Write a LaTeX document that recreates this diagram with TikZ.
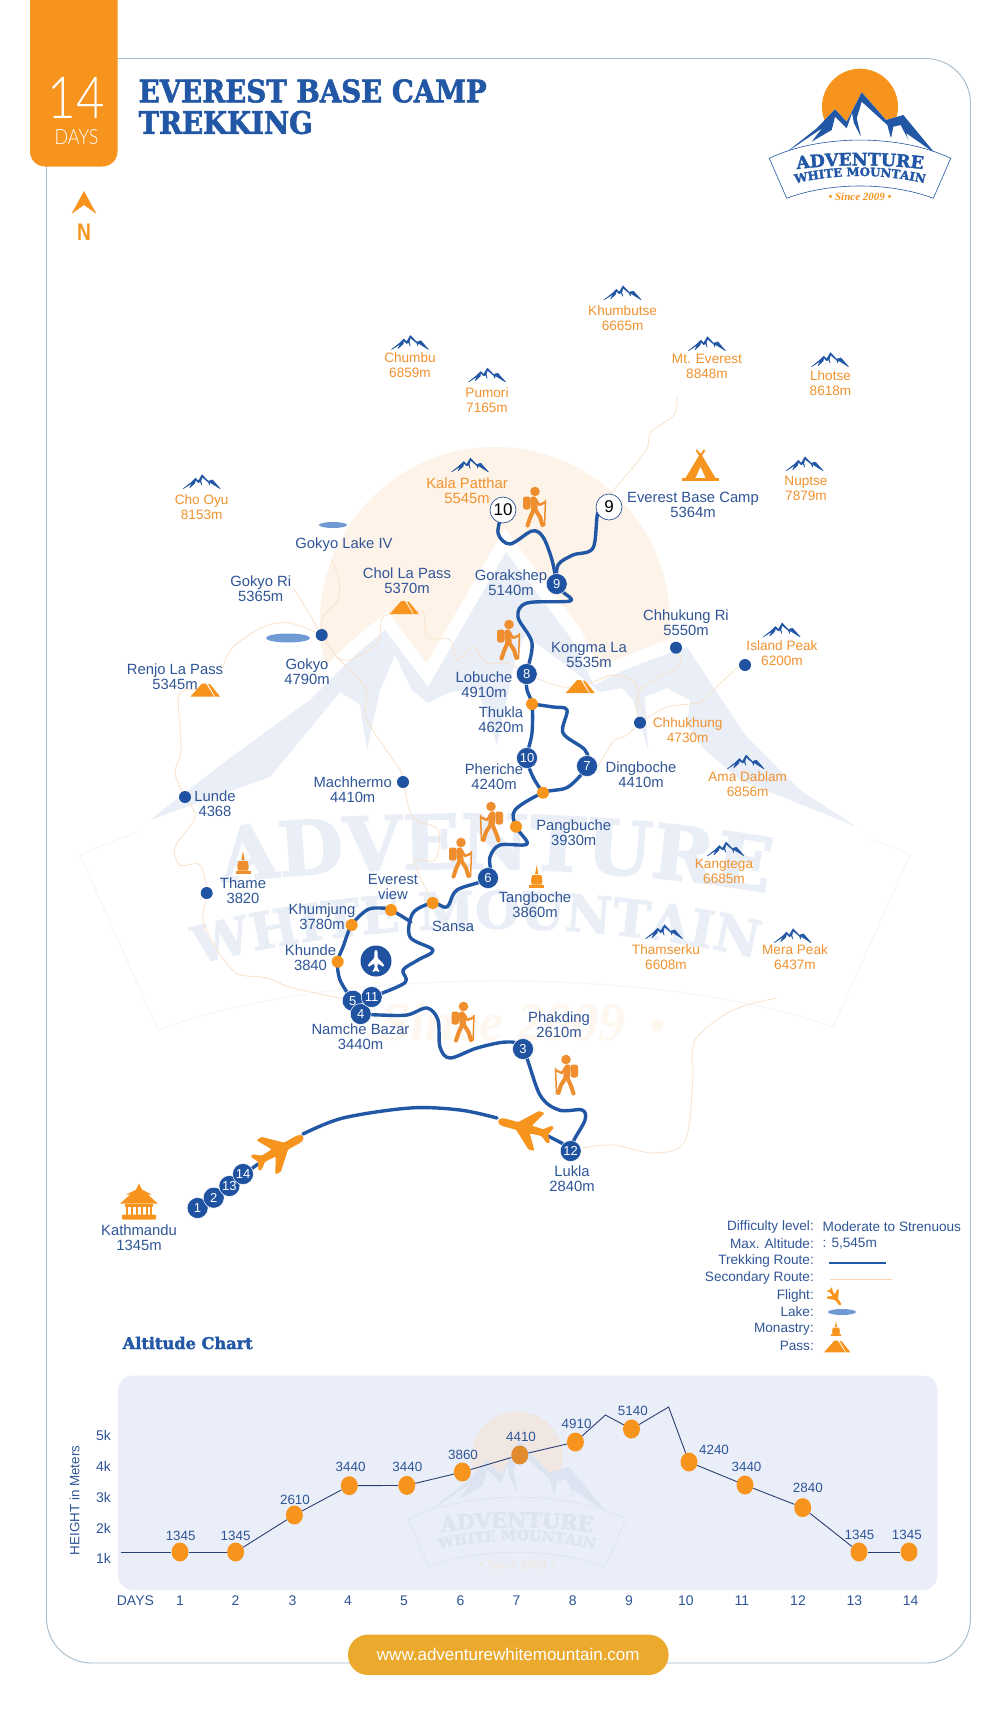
\documentclass[tikz,border=0pt]{standalone}
\usepackage{fontspec}
\usetikzlibrary{decorations.text,shapes.geometric}
\setmainfont{Liberation Sans}
\newfontfamily\slabf{DejaVu Serif}[BoldFont=* Bold,BoldFeatures={FakeBold=2}]
\newfontfamily\thinf{Lato}[UprightFont=* Light]
\newfontfamily\sincef{Liberation Serif}
\definecolor{navy}{HTML}{2F5597}
\definecolor{routec}{HTML}{2257A5}
\definecolor{stopc}{HTML}{1F52A0}
\definecolor{orng}{HTML}{F7941E}
\definecolor{orngt}{HTML}{F0922F}
\definecolor{orngd}{HTML}{E18B2E}
\definecolor{hikerc}{HTML}{EE8E2E}
\definecolor{sec}{HTML}{F9E2CB}
\definecolor{wmb}{HTML}{E9EEF7}
\definecolor{wms}{HTML}{FEF3E8}
\definecolor{wmt}{HTML}{FEF7F0}
\definecolor{wml}{HTML}{F5F7FB}
\definecolor{panel}{HTML}{E9EEF8}
\definecolor{lakec}{HTML}{6F9AD3}
\definecolor{btn}{HTML}{EBA92E}
\definecolor{borderc}{HTML}{A5BBCB}
\definecolor{chartl}{HTML}{2B3F73}
\definecolor{csun}{HTML}{F0E7E2}
\definecolor{cblue}{HTML}{DCE3F1}
\pgfdeclarelayer{wm}\pgfdeclarelayer{rt}\pgfsetlayers{wm,rt,main}
\tikzset{
 x=1pt,y=-1pt,
 lblue/.style={align=center,inner sep=0pt,text=navy,font=\fontsize{14.8}{15}\selectfont},
 lorng/.style={align=center,inner sep=0pt,text=orngt,font=\fontsize{13.6}{15}\selectfont},
 stopn/.style={circle,fill=stopc,draw=white,line width=.5pt,text=white,minimum size=21pt,inner sep=0pt,font=\fontsize{13}{13}\selectfont},
 whiten/.style={circle,fill=white,draw=navy,line width=.7pt,text=black,minimum size=26pt,inner sep=0pt,font=\fontsize{17}{17}\selectfont},
 odot/.style={circle,fill=orng,minimum size=12pt,inner sep=0pt},
 bdot/.style={circle,fill=stopc,minimum size=12pt,inner sep=0pt},
 cdot/.style={ellipse,fill=orng,minimum width=17pt,minimum height=19pt,inner sep=0pt},
 route/.style={draw=routec,line width=3.4pt,line cap=round,line join=round},
 secr/.style={draw=sec,line width=.8pt,line cap=round,line join=round},
 smth/.style={smooth,tension=.55},
 clab/.style={inner sep=0pt,text=navy,font=\fontsize{13.4}{14}\selectfont},
 axl/.style={inner sep=0pt,text=navy,font=\fontsize{14}{14}\selectfont},
 legk/.style={anchor=east,inner sep=0pt,text=navy,font=\fontsize{13.6}{14}\selectfont},
 legv/.style={anchor=west,inner sep=0pt,text=navy,font=\fontsize{13.6}{14}\selectfont},
}
\newcommand\peakshape{(-18.5,7) -- (-10.8,1) -- (-6.2,-3.5) -- (-3.3,-.6) -- (.4,-7) -- (6.5,-.5) -- (10.8,-1.8) -- (18.5,7) -- (10,1.7) -- (8.3,.5) -- (7.8,3.3) -- (6.8,.5) -- (.4,-4.8) -- (-.8,-.5) -- (.2,3.5) -- (-1.5,-.2) -- (-3.3,1) -- (-6.2,-1.8) -- (-7,1.5) -- (-12,6)-- (-9.5,1.2) -- cycle}
\newcommand\peak[3]{\begin{scope}[shift={(#2,#3)}]\filldraw[routec,line width=.5pt,line join=round] \peakshape;\end{scope}}
\newcommand\passicon[3]{\begin{scope}[shift={(#1,#2)},scale=#3]
 \fill[orng] (-14.5,6.5) -- (-3,-6.5) -- (1,-6.5) -- (9,6.5) -- cycle;
 \fill[orng] (3,-6) -- (5,-6) -- (15,6.5) -- (10,6.5) -- cycle;\end{scope}}
\newcommand\stupa[4]{\begin{scope}[shift={(#1,#2)},scale=#3]
 \fill[#4] (0,-12) -- (-1.6,-3) -- (1.6,-3) -- cycle;
 \fill[#4] (-4.6,-2) .. controls (-6,3) and (-6,6) .. (-5,7.5) -- (5,7.5) .. controls (6,6) and (6,3) .. (4.6,-2) -- cycle;
 \fill[#4] (-7.5,7.5) rectangle (7.5,11);\end{scope}}
\newcommand\hiker[4]{\begin{scope}[shift={(#1,#2)},xscale=#3]
 \fill[hikerc] (2,-15.5) circle (4.8);
 \fill[hikerc,rounded corners=2.5pt] (-10,-10.5) rectangle (-2.5,2.5);
 \draw[hikerc,line width=6.5pt,line cap=round] (.5,-7.5) -- (1.5,2);
 \draw[hikerc,line width=4pt,line cap=round,line join=round] (.5,3) -- (-3,11) -- (-5.5,18.5);
 \draw[hikerc,line width=4pt,line cap=round,line join=round] (2.5,3) -- (7,10) -- (9.5,18);
 \draw[hikerc,line width=2.4pt,line cap=round,line join=round] (2.5,-8) -- (6,-2) -- (12,-4.5);
 \draw[hikerc,line width=1.5pt] (12.5,-7) -- (11.5,19);
 \end{scope}}
\newcommand\plane[5]{\begin{scope}[shift={(#1,#2)},rotate=#3,scale=#4]
 \fill[#5,rounded corners=1pt] (28,0) -- (26,-3) -- (22,-4) -- (8,-4) -- (-9,-20) -- (-15,-19.5) -- (-6,-4) -- (-18,-3.5) -- (-25,-9) -- (-28,-8) -- (-24,0) -- (-28,8) -- (-25,9) -- (-18,3.5) -- (-6,4) -- (-15,19.5) -- (-9,20) -- (8,4) -- (22,4) -- (26,3) -- cycle;
 \end{scope}}
% x y scale sun blue fill orange
\newcommand\advlogo[7]{\begin{scope}[shift={(#1,#2)},scale=#3]
 \fill[#4] (0,-38.3) circle (38);
 \fill[#6] (-75,8.3) -- (-43.3,-16.7) -- (-25,-35.7) -- (-13.3,-23.3) -- (1.7,-52.7) -- (26,-25) -- (43.3,-30) -- (75,8.3) -- cycle;
 \fill[#5,line join=round] (-75,8.3) -- (-43.3,-16.7) -- (-25,-35.7) -- (-13.3,-23.3) -- (1.7,-52.7) -- (26,-25) -- (43.3,-30) -- (75,8.3) -- (46,-12) -- (48.3,-5) -- (40.7,-20) -- (33.3,-18.3) -- (31,-6.7) -- (27.3,-20) -- (1.7,-43.3) -- (-3.3,-26.7) -- (1,-8.3) -- (-6,-21.7) -- (-8,-32) -- (-13.3,-16.7) -- (-25,-28.3) -- (-28.3,-15) -- (-48.3,-3.3) -- (-38,-16.7) -- cycle;
 \filldraw[fill=#6,draw=#5,line width=.6pt] (-90.7,13.3) .. controls (-40,-11) and (40,-11) .. (90.7,13.3) -- (73.3,53.3) .. controls (30,36.9) and (-30,36.9) .. (-73.3,53.3) -- cycle;
 \pgfmathsetmacro\fa{17.3*#3}\pgfmathsetmacro\fb{11.8*#3}\pgfmathsetmacro\fc{11*#3}
 \path[decorate,decoration={text along path,text align=center,text={|\slabf\bfseries\fontsize{\fa}{\fa}\selectfont\color{#5}|ADVENTURE}}] (-66,24.5) .. controls (-25,19) and (25,19) .. (66,24.5);
 \path[decorate,decoration={text along path,text align=center,text={|\slabf\bfseries\fontsize{\fb}{\fb}\selectfont\color{#5}|WHITE MOUNTAIN}}] (-72,40) .. controls (-25,28) and (25,28) .. (72,40);
 \node[inner sep=0pt,text=#7,font=\sincef\bfseries\itshape\fontsize{\fc}{\fc}\selectfont] at (0,52) {• Since 2009 •};
 \end{scope}}
\begin{document}
\begin{tikzpicture}
\useasboundingbox (0,0) rectangle (1001,1727);

% ---------- watermark
\begin{pgfonlayer}{wm}
\fill[white] (0,0) rectangle (1001,1727);
\draw[wml,line width=1.2pt,line join=round] (80,855) .. controls (330,745) and (660,745) .. (910,855) -- (833,1027) .. controls (660,965) and (330,965) .. (158,1030) -- cycle;
\fill[wms] (495,622) circle (175);
\def\wmout{(150,820) -- (227,760) -- (310,700) -- (353,657) -- (385,630) -- (428,687) -- (506,552) -- (570,637) -- (594,685) -- (620,672) -- (650,660) -- (687,647) -- (745,735) -- (800,790) -- (857,827)}
\fill[white,draw=white,line width=26pt,line join=miter] \wmout -- (857,860) -- (150,860) -- cycle;
\fill[wmb] \wmout -- (790,800) -- (740,780) -- (705,750) -- (687,725) -- (690,700) -- (667,688) -- (645,697) -- (648,750) -- (633,700) -- (622,688) -- (600,692) -- (570,668) -- (525,635) -- (515,660) -- (497,745) -- (478,690) -- (450,692) -- (428,703) -- (412,690) -- (395,655) -- (380,690) -- (367,750) -- (360,705) -- (340,692) -- (270,777) -- cycle;
\path[decorate,decoration={text along path,text align=center,text={|\slabf\bfseries\fontsize{75}{75}\selectfont\color{wmb}|ADVENTURE}}] (210,884) .. controls (395,862) and (595,862) .. (780,895);
\path[decorate,decoration={text along path,text align=center,text={|\slabf\bfseries\fontsize{51}{51}\selectfont\color{wmb}|WHITE MOUNTAIN}}] (172,972) .. controls (357,915) and (597,915) .. (782,965);
\node[inner sep=0pt,text=wmt,font=\sincef\bfseries\itshape\fontsize{54}{54}\selectfont] (wmsince) at (503,1022) {Since 2009};
\fill[wmt] (657,1025) circle (6);
\end{pgfonlayer}

% ---------- frame
\draw[borderc,line width=.9pt,rounded corners=45pt] (100,58.5) -- (970.5,58.5) -- (970.5,1663) -- (46.5,1663) -- (46.5,130);
\fill[orng,rounded corners=15pt] (30,-40) rectangle (117.5,166.5);
\node[inner sep=0pt,text=white,font=\thinf\fontsize{58}{58}\selectfont] (tabn) at (76.5,97.5) {\scalebox{.85}[1]{14}};
\node[inner sep=0pt,text=white,font=\thinf\fontsize{21}{21}\selectfont] (tabd) at (76.5,137) {\scalebox{.85}[1]{DAYS}};
\node[anchor=west,inner sep=0pt] (t1) at (138.5,91) {\resizebox{348pt}{23pt}{\color{routec}\slabf\bfseries EVEREST BASE CAMP}};
\node[anchor=west,inner sep=0pt] (t2) at (138.5,122.5) {\resizebox{174pt}{23pt}{\color{routec}\slabf\bfseries TREKKING}};
\fill[orng] (84,191) -- (96.5,214) -- (84,205) -- (71.5,214) -- cycle;
\node[inner sep=0pt,text=orng,font=\bfseries\fontsize{24}{24}\selectfont] (north) at (84,232) {\scalebox{.8}[1]{N}};
\advlogo{860}{145}{1}{orng}{routec}{white}{orng}

% ---------- peaks
\peak{cho}{201.7}{481.7}
\peak{khu}{622.6}{292.8}
\peak{chu}{410}{342.5}
\peak{eve}{707}{343.7}
\peak{lho}{830}{359.7}
\peak{pum}{487}{375}
\peak{kal}{470}{465}
\peak{nup}{804.6}{463.8}
\peak{isl}{781.7}{630}
\peak{ama}{745.7}{762}
\peak{kan}{725.7}{849}
\peak{tha}{664}{931.7}
\peak{mer}{792.7}{935.7}

% ---------- labels
\node[lorng] (lcho) at (201.7,507.5) {Cho Oyu\\8153m};
\node[lorng] (lkhu) at (622.6,318.4) {Khumbutse\\6665m};
\node[lorng] (lchu) at (410,365.5) {Chumbu\\6859m};
\node[lorng] (leve) at (707,366.6) {Mt. Everest\\8848m};
\node[lorng] (llho) at (830.5,382.7) {Lhotse\\8618m};
\node[lorng] (lpum) at (487,400) {Pumori\\7165m};
\node[lorng,font=\fontsize{14.8}{15}\selectfont] (lkal) at (467,490.7) {Kala Patthar\\5545m};
\node[lorng] (lnup) at (806,488) {Nuptse\\7879m};
\node[lorng] (lisl) at (782,652.7) {Island Peak\\6200m};
\node[lorng] (lchk) at (687.7,730) {Chhukhung\\4730m};
\node[lorng] (lama) at (747.7,783.7) {Ama Dablam\\6856m};
\node[lorng] (lkan) at (724,871.7) {Kangtega\\6685m};
\node[lorng] (ltha) at (666,956.7) {Thamserku\\6608m};
\node[lorng] (lmer) at (795,957) {Mera Peak\\6437m};
\node[lblue] (lebc) at (693,504.4) {Everest Base Camp\\5364m};
\node[lblue] (lglk) at (344,544.7) {Gokyo Lake IV};
\node[lblue] (lgri) at (260.7,589) {Gokyo Ri\\5365m};
\node[lblue] (lcol) at (407,581) {Chol La Pass\\5370m};
\node[lblue] (lgor) at (511,583) {Gorakshep\\5140m};
\node[lblue] (lren) at (175,677) {Renjo La Pass\\5345m};
\node[lblue] (lgok) at (307,672) {Gokyo\\4790m};
\node[lblue] (llob) at (484,685) {Lobuche\\4910m};
\node[lblue] (lthu) at (501,720) {Thukla\\4620m};
\node[lblue] (lphe) at (494,777) {Pheriche\\4240m};
\node[lblue] (lmac) at (352.7,790) {Machhermo\\4410m};
\node[lblue] (llun) at (215,804) {Lunde\\4368};
\node[lblue] (ltme) at (243,891) {Thame\\3820};
\node[lblue] (levw) at (393,887) {Everest\\view};
\node[lblue] (lkhj) at (322,917) {Khumjung\\3780m};
\node[lblue] (lkhn) at (310.5,958) {Khunde\\3840};
\node[lblue] (lsan) at (453,926.7) {Sansa};
\node[lblue] (ltan) at (535,905) {Tangboche\\3860m};
\node[lblue] (lpan) at (573.7,833) {Pangbuche\\3930m};
\node[lblue] (lchr) at (686,623) {Chhukung Ri\\5550m};
\node[lblue] (lkon) at (589,655) {Kongma La\\5535m};
\node[lblue] (ldin) at (641,775) {Dingboche\\4410m};
\node[lblue] (lpha) at (559,1025) {Phakding\\2610m};
\node[lblue] (lnam) at (360.5,1036.5) {Namche Bazar\\3440m};
\node[lblue] (lluk) at (572,1179) {Lukla\\2840m};
\node[lblue] (lkat) at (139,1238) {Kathmandu\\1345m};

% ---------- place nodes
\node[bdot] (dgok) at (321.7,635) {};
\node[bdot] (dmac) at (403,782) {};
\node[bdot] (dlun) at (185,797) {};
\node[bdot] (dtha) at (206.7,893) {};
\node[bdot] (dchr) at (676,647.7) {};
\node[bdot] (disl) at (745,665) {};
\node[bdot] (dchk) at (640,722.7) {};
\node[odot] (dthu) at (532,704) {};
\node[odot] (dpa2) at (543,792.7) {};
\node[odot] (dpan) at (516,826.7) {};
\node[odot] (dsan) at (432.7,903) {};
\node[odot] (devw) at (391,910) {};
\node[odot] (dkhj) at (351.7,925) {};
\node[odot] (dkhn) at (337.7,961.7) {};
\node[stopn] (s1) at (197.6,1208) {1};
\node[stopn] (s2) at (213.7,1197.7) {2};
\node[stopn] (s13) at (229.4,1186) {13};
\node[stopn] (s14) at (243,1174) {14};
\node[stopn] (s12) at (570.7,1151) {12};
\node[stopn] (s3) at (523,1049) {3};
\node[stopn] (s5) at (352.7,1000.7) {5};
\node[stopn] (s4) at (360.7,1014) {4};
\node[stopn] (s11) at (371.7,997) {11};
\node[stopn] (s6) at (488,878) {6};
\node[stopn] (s7) at (587,766) {7};
\node[stopn] (s10) at (527,758) {10};
\node[stopn] (s8) at (526.7,674) {8};
\node[stopn] (s9) at (556.7,584) {9};
\node[whiten] (w10) at (503,510) {10};
\node[whiten] (w9) at (609,507) {9};
\coordinate (nose1) at (303,1134);
\coordinate (nose2) at (497,1118);
\coordinate (tail1) at (258,1164);
\coordinate (tail2) at (548,1136);
\coordinate (everest) at (677,396);
\coordinate (lakefour) at (332,560);
\coordinate (griend) at (293,588);
\coordinate (rjoin) at (223,667);
\coordinate (lukend) at (777,998);

% ---------- routes
\begin{pgfonlayer}{rt}
\draw[secr] plot[smth] coordinates {(everest) (674,415) (651,432) (645,452) (610,494)};
\draw[secr] plot[smth] coordinates {(lakefour) (339,580) (338,600) (323,617) (dgok.center)};
\draw[secr] plot[smth] coordinates {(griend) (303,603) (317,627) (dgok.center)};
\draw[secr] plot[smth] coordinates {(dgok.center) (290,623) (263,627) (233,647) (rjoin)};
\draw[secr] plot[smth] coordinates {(205,690) (180,693) (180,727) (181,753) (175,773) (dlun.center) (195,817) (175,847) (180,865) (200,865) (dtha.center) (203,920) (217,950) (230,967) (240,975) (267,978) (293,988) (s5.center)};
\draw[secr] plot[smth] coordinates {(dgok.center) (337,657) (365,687) (367,720) (400,770) (dmac.center) (413,817) (438,830) (435,860) (415,862) (dsan.center)};
\draw[secr] plot[smth] coordinates {(337,657) (350,660) (377,643) (383,617) (403,613) (423,612) (427,637) (450,640) (457,660) (473,647) (487,663) (507,663) (s8.center)};
\draw[secr] plot[smth] coordinates {(s8.center) (563,687) (593,682) (613,675) (635,683) (637,713) (dchk.center)};
\draw[secr] plot[smth] coordinates {(dchr.center) (680,657) (677,667) (640,690) (643,713) (dchk.center)};
\draw[secr] plot[smth] coordinates {(disl.center) (737,668) (710,693) (697,703) (667,707) (dchk.center)};
\draw[secr] plot[smth] coordinates {(dchk.center) (627,735) (613,742) (595,770) (s7.center)};
\draw[secr] plot[smth] coordinates {(lukend) (733,1010) (697,1037) (692,1062) (693,1073) (685.5,1140) (655,1153) (613,1145) (582,1148) (s12.center)};

\draw[route] (s1) -- (tail1);
\draw[route] plot[smth] coordinates {(nose1) (343,1118) (410,1108) (460,1110) (nose2)};
\draw[route] (tail2) -- (561.7,1143) -- (s12);
\draw[route] plot[smth] coordinates {(s12.center) (574,1140) (585,1120) (582,1110) (559,1110) (540,1095) (s3.center) (507,1042) (477,1048) (450,1058) (440,1047) (438,1020) (427,1008) (407,1015) (380,1015) (s4.center)};
\draw[route] plot[smth] coordinates {(s11.center) (405,982.7) (403,970) (418,960) (433,950) (410,937) (413,913) (dsan.center) (447,907) (457,890) (s6.center) (490,857) (500,845) (527,844) (dpan.center) (515,810) (dpa2.center) (568,787) (s7.center) (585,750) (563,733) (567,710) (553,707) (dthu.center)};
\draw[route] plot[smth] coordinates {(s5.center) (340,980) (dkhn.center) (343,947) (dkhj.center) (367,910) (380,908) (devw.center) (411,922)};
\draw[route] plot[smth] coordinates {(dpa2.center) (533,777) (s10.center) (532,733) (dthu.center) (527,690) (s8.center) (532,643) (518,617) (527,603) (570,601) (563,592) (s9.center)};
\draw[route] plot[smth] coordinates {(s9.center) (552,560) (543,537) (532,531) (510,544) (498,533) (w10.center)};
\draw[route] plot[smth] coordinates {(s9.center) (558,565) (573,555) (593,548) (598,512) (w9.center)};
\end{pgfonlayer}

% ---------- lakes and icons
\fill[lakec] (333,525) ellipse [x radius=14,y radius=3];
\fill[lakec] (288,638) ellipse [x radius=22,y radius=4.5];
\passicon{404}{607.7}{1}
\passicon{205}{690}{1}
\passicon{580}{686.7}{1}
\stupa{243}{863}{1}{hikerc}
\stupa{536.7}{877}{1}{orng}
\hiker{533}{507}{1}{}
\hiker{507}{640}{1}{}
\hiker{493}{822}{-1}{}
\hiker{459}{858}{1}{}
\hiker{461.5}{1022}{1}{}
\hiker{568}{1075}{-1}{}
\plane{279}{1150}{29}{1}{orng}
\plane{525}{1128}{165}{1}{orng}
\fill[stopc] (376,961) circle (15.5);
\plane{376}{961}{90}{.4}{white}
% tent
\begin{scope}[shift={(700.5,465)}]
 \fill[orng] (-15,13) -- (0,-12) -- (15,13) -- cycle;
 \fill[white] (-5,13) -- (0,2) -- (5,13) -- cycle;
 \fill[orng] (-18.5,12.5) rectangle (18.5,15.5);
 \draw[orng,line width=2pt] (-4,-15) -- (2,-6) (4,-15) -- (-2,-6);
\end{scope}
% temple
\begin{scope}[shift={(139,1201.7)}]
 \fill[orng] (0,-18) -- (-3,-12) -- (-13,-7) -- (13,-7) -- (3,-12) -- cycle;
 \fill[orng] (-8,-8) -- (-19,2) -- (19,2) -- (8,-8) -- cycle;
 \fill[orng] (-14,2) rectangle (14,5);
 \foreach \p in {-12,-7,-2,3,8,12} \draw[orng,line width=1.2pt] (\p,5) -- (\p,13);
 \fill[orng,rounded corners=1pt] (-17,13) rectangle (17,18);
\end{scope}

% ---------- legend
\node[legk] (k1) at (814,1227) {Difficulty level:};
\node[legv] (v1) at (822.5,1227) {Moderate to Strenuous};
\node[legk] (k2) at (814,1244) {Max. Altitude:};
\node[legv] (v2) at (822.5,1244) {: 5,545m};
\node[legk] (k3) at (814,1261) {Trekking Route:};
\node[legk] (k4) at (814,1278) {Secondary Route:};
\node[legk] (k5) at (814,1296) {Flight:};
\node[legk] (k6) at (814,1312) {Lake:};
\node[legk] (k7) at (814,1329) {Monastry:};
\node[legk] (k8) at (814,1346) {Pass:};
\coordinate (tr1) at (829,1263);\coordinate (tr2) at (886,1263);
\coordinate (sr1) at (830,1279);\coordinate (sr2) at (892,1279);
\draw[routec,line width=1.1pt] (tr1) -- (tr2);
\draw[sec!85!orng,line width=.9pt] (sr1) -- (sr2);
\plane{835}{1297}{-55}{.36}{orng}
\fill[lakec] (842,1312) ellipse [x radius=14,y radius=3];
\stupa{836}{1329}{.68}{orng}
\passicon{837}{1346.5}{.9}
\node[anchor=west,inner sep=0pt] (achart) at (122.5,1343) {\resizebox{130pt}{!}{\color{routec}\slabf\bfseries Altitude Chart}};

% ---------- chart
\fill[panel,rounded corners=15pt] (118,1375.5) rectangle (937.5,1590);
\advlogo{517}{1503}{1.2}{csun}{cblue}{panel}{csun}
\coordinate (c0) at (121,1552);
\coordinate (pk1) at (605.4,1415);
\coordinate (pk2) at (668.6,1407);
\node[cdot] (c1) at (180,1552) {};
\node[cdot] (c2) at (235.6,1552) {};
\node[cdot] (c3) at (294.4,1515) {};
\node[cdot] (c4) at (349.3,1485.7) {};
\node[cdot] (c5) at (406.8,1485.4) {};
\node[cdot] (c6) at (462.3,1472) {};
\node[cdot,fill=orngd] (c7) at (519.8,1455) {};
\node[cdot] (c8) at (575.4,1442) {};
\node[cdot] (c9) at (631.5,1429) {};
\node[cdot] (c10) at (689,1462) {};
\node[cdot] (c11) at (745,1485) {};
\node[cdot] (c12) at (802.7,1507.6) {};
\node[cdot] (c13) at (859,1552) {};
\node[cdot] (c14) at (909,1552) {};
\begin{scope}[chartl,line width=.9pt]
\draw (c0) -- (c1);
\draw (c1) -- (c2);
\draw (c2) -- (c3);
\draw (c3) -- (c4);
\draw (c4) -- (c5);
\draw (c5) -- (c6);
\draw (c6) -- (c7);
\draw (c7) -- (c8);
\draw (c8) -- (pk1) -- (c9);
\draw (c9) -- (pk2) -- (c10);
\draw (c10) -- (c11);
\draw (c11) -- (c12);
\draw (c12) -- (c13);
\draw (c13) -- (c14);
\end{scope}
\node[clab] (v1a) at (180.7,1536) {1345};
\node[clab] (v2a) at (235.6,1536) {1345};
\node[clab] (v3a) at (295,1500) {2610};
\node[clab] (v4a) at (350.6,1467) {3440};
\node[clab] (v5a) at (407.4,1467) {3440};
\node[clab] (v6a) at (463,1454.5) {3860};
\node[clab] (v7a) at (521,1437) {4410};
\node[clab] (v8a) at (576.6,1424) {4910};
\node[clab] (v9a) at (632.8,1411) {5140};
\node[clab] (v10a) at (714,1449.4) {4240};
\node[clab] (v11a) at (746.5,1467) {3440};
\node[clab] (v12a) at (807.8,1487.4) {2840};
\node[clab] (v13a) at (859.5,1534.5) {1345};
\node[clab] (v14a) at (906.8,1534.5) {1345};
\node[axl] (y5) at (103.4,1435) {5k};
\node[axl] (y4) at (103.4,1466) {4k};
\node[axl] (y3) at (103.4,1497) {3k};
\node[axl] (y2) at (103.4,1528) {2k};
\node[axl] (y1) at (103.4,1558) {1k};
\node[axl,rotate=90,font=\fontsize{13.4}{14}\selectfont] (ytitle) at (74.7,1500.5) {HEIGHT in Meters};
\node[axl] (dd) at (135.4,1601) {DAYS};
\node[axl] (d1) at (180,1601) {1};
\node[axl] (d2) at (235.6,1601) {2};
\node[axl] (d3) at (292.5,1601) {3};
\node[axl] (d4) at (348,1601) {4};
\node[axl] (d5) at (404,1601) {5};
\node[axl] (d6) at (460.4,1601) {6};
\node[axl] (d7) at (516.6,1601) {7};
\node[axl] (d8) at (572.8,1601) {8};
\node[axl] (d9) at (629,1601) {9};
\node[axl] (d10) at (685.8,1601) {10};
\node[axl] (d11) at (742,1601) {11};
\node[axl] (d12) at (798,1601) {12};
\node[axl] (d13) at (854.4,1601) {13};
\node[axl] (d14) at (910.6,1601) {14};
\node[fill=btn,rounded corners=20pt,minimum width=320.6pt,minimum height=40.4pt,inner sep=0pt,text=white,font=\fontsize{17}{17}\selectfont] (site) at (508.3,1654.8) {www.adventurewhitemountain.com};
\end{tikzpicture}
\end{document}
